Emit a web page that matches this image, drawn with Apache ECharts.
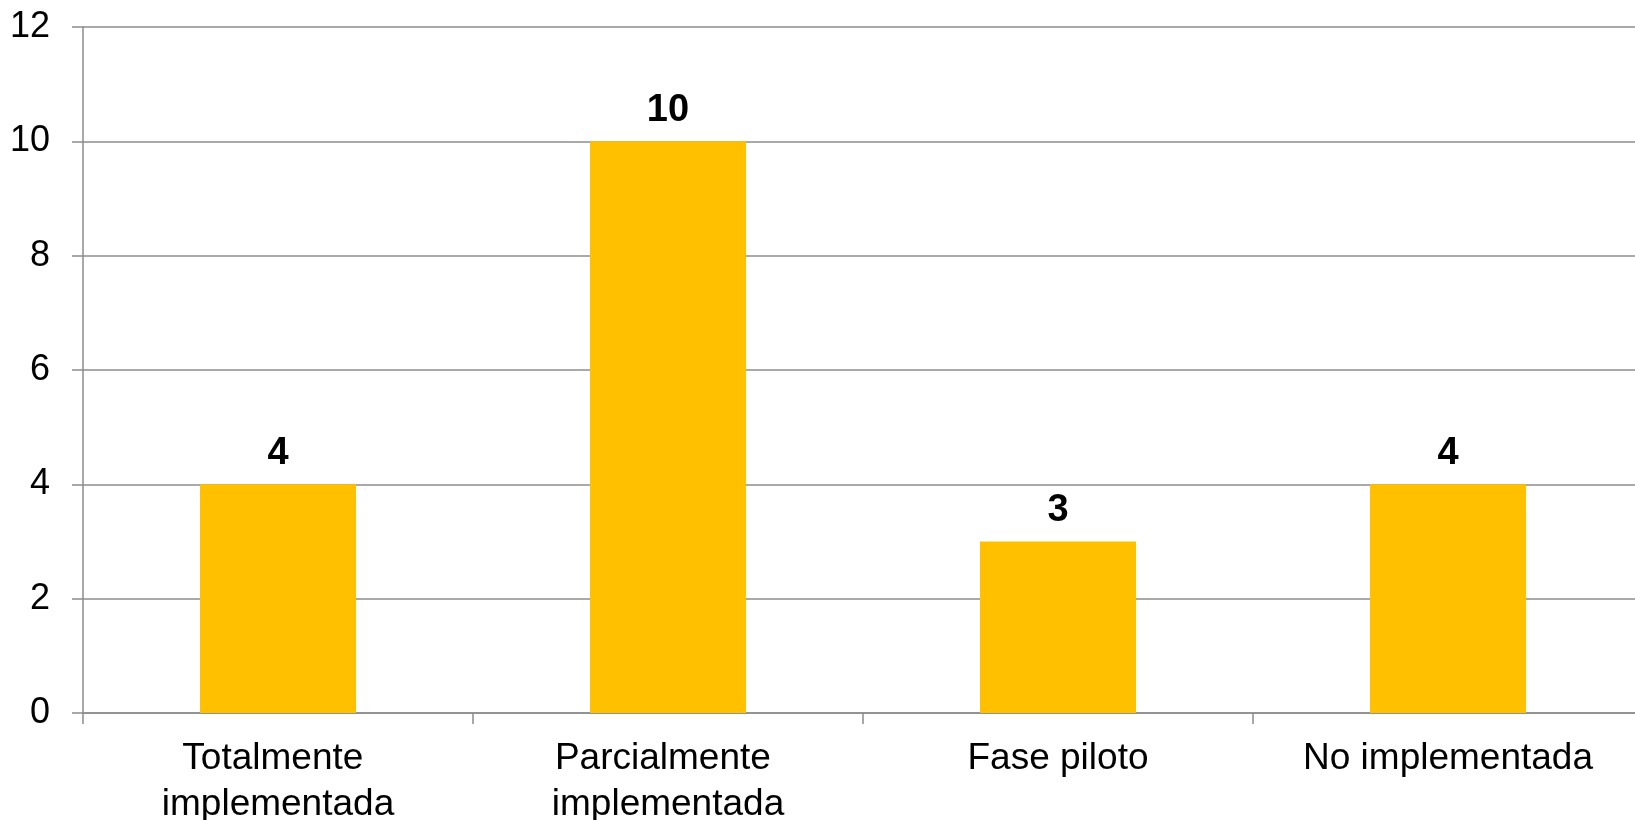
<!DOCTYPE html>
<html>
<head>
<meta charset="utf-8">
<script src="https://cdn.jsdelivr.net/npm/echarts@6/dist/echarts.min.js"></script>
<style>
html,body{margin:0;padding:0;background:#fff;}
#chart{width:1635px;height:820px;}
</style>
</head>
<body>
<div id="chart"></div>
<script>
const categories = ['Totalmente implementada', 'Parcialmente implementada', 'Fase piloto', 'No implementada'];
const values = [4, 10, 3, 4];
const yTicks = [0, 2, 4, 6, 8, 10, 12];

const chart = echarts.init(document.getElementById('chart'), null, {renderer: 'canvas'});
const font = '"Liberation Sans", Arial, sans-serif';
chart.setOption({
  animation: false,
  backgroundColor: '#ffffff',
  grid: {left: 83, width: 1560, top: 27, bottom: 107, containLabel: false, outerBoundsMode: 'none'},
  xAxis: {
    type: 'category',
    data: categories,
    axisLine: {show: true, lineStyle: {color: '#8c8c8c', width: 1.5}},
    axisTick: {show: true, alignWithLabel: false, length: 11, lineStyle: {color: '#8c8c8c', width: 1.5}},
    axisLabel: {
      color: '#000', fontFamily: font, fontSize: 37, lineHeight: 46, margin: 23,
      width: 370, overflow: 'break', interval: 0
    }
  },
  yAxis: {
    type: 'value',
    min: yTicks[0], max: yTicks[yTicks.length - 1], interval: 2,
    axisLine: {show: true, lineStyle: {color: '#8c8c8c', width: 1.5}},
    axisTick: {show: true, length: 11, lineStyle: {color: '#8c8c8c', width: 1.5}},
    splitLine: {show: true, lineStyle: {color: '#8c8c8c', width: 1.5}},
    axisLabel: {color: '#000', fontFamily: font, fontSize: 36, margin: 33}
  },
  series: [{
    type: 'bar',
    data: values,
    barWidth: '40%',
    itemStyle: {color: '#FFC000'},
    label: {
      show: true, position: 'top', distance: 12,
      color: '#000', fontFamily: font, fontSize: 38, fontWeight: 'bold'
    }
  }]
});
</script>
</body>
</html>
